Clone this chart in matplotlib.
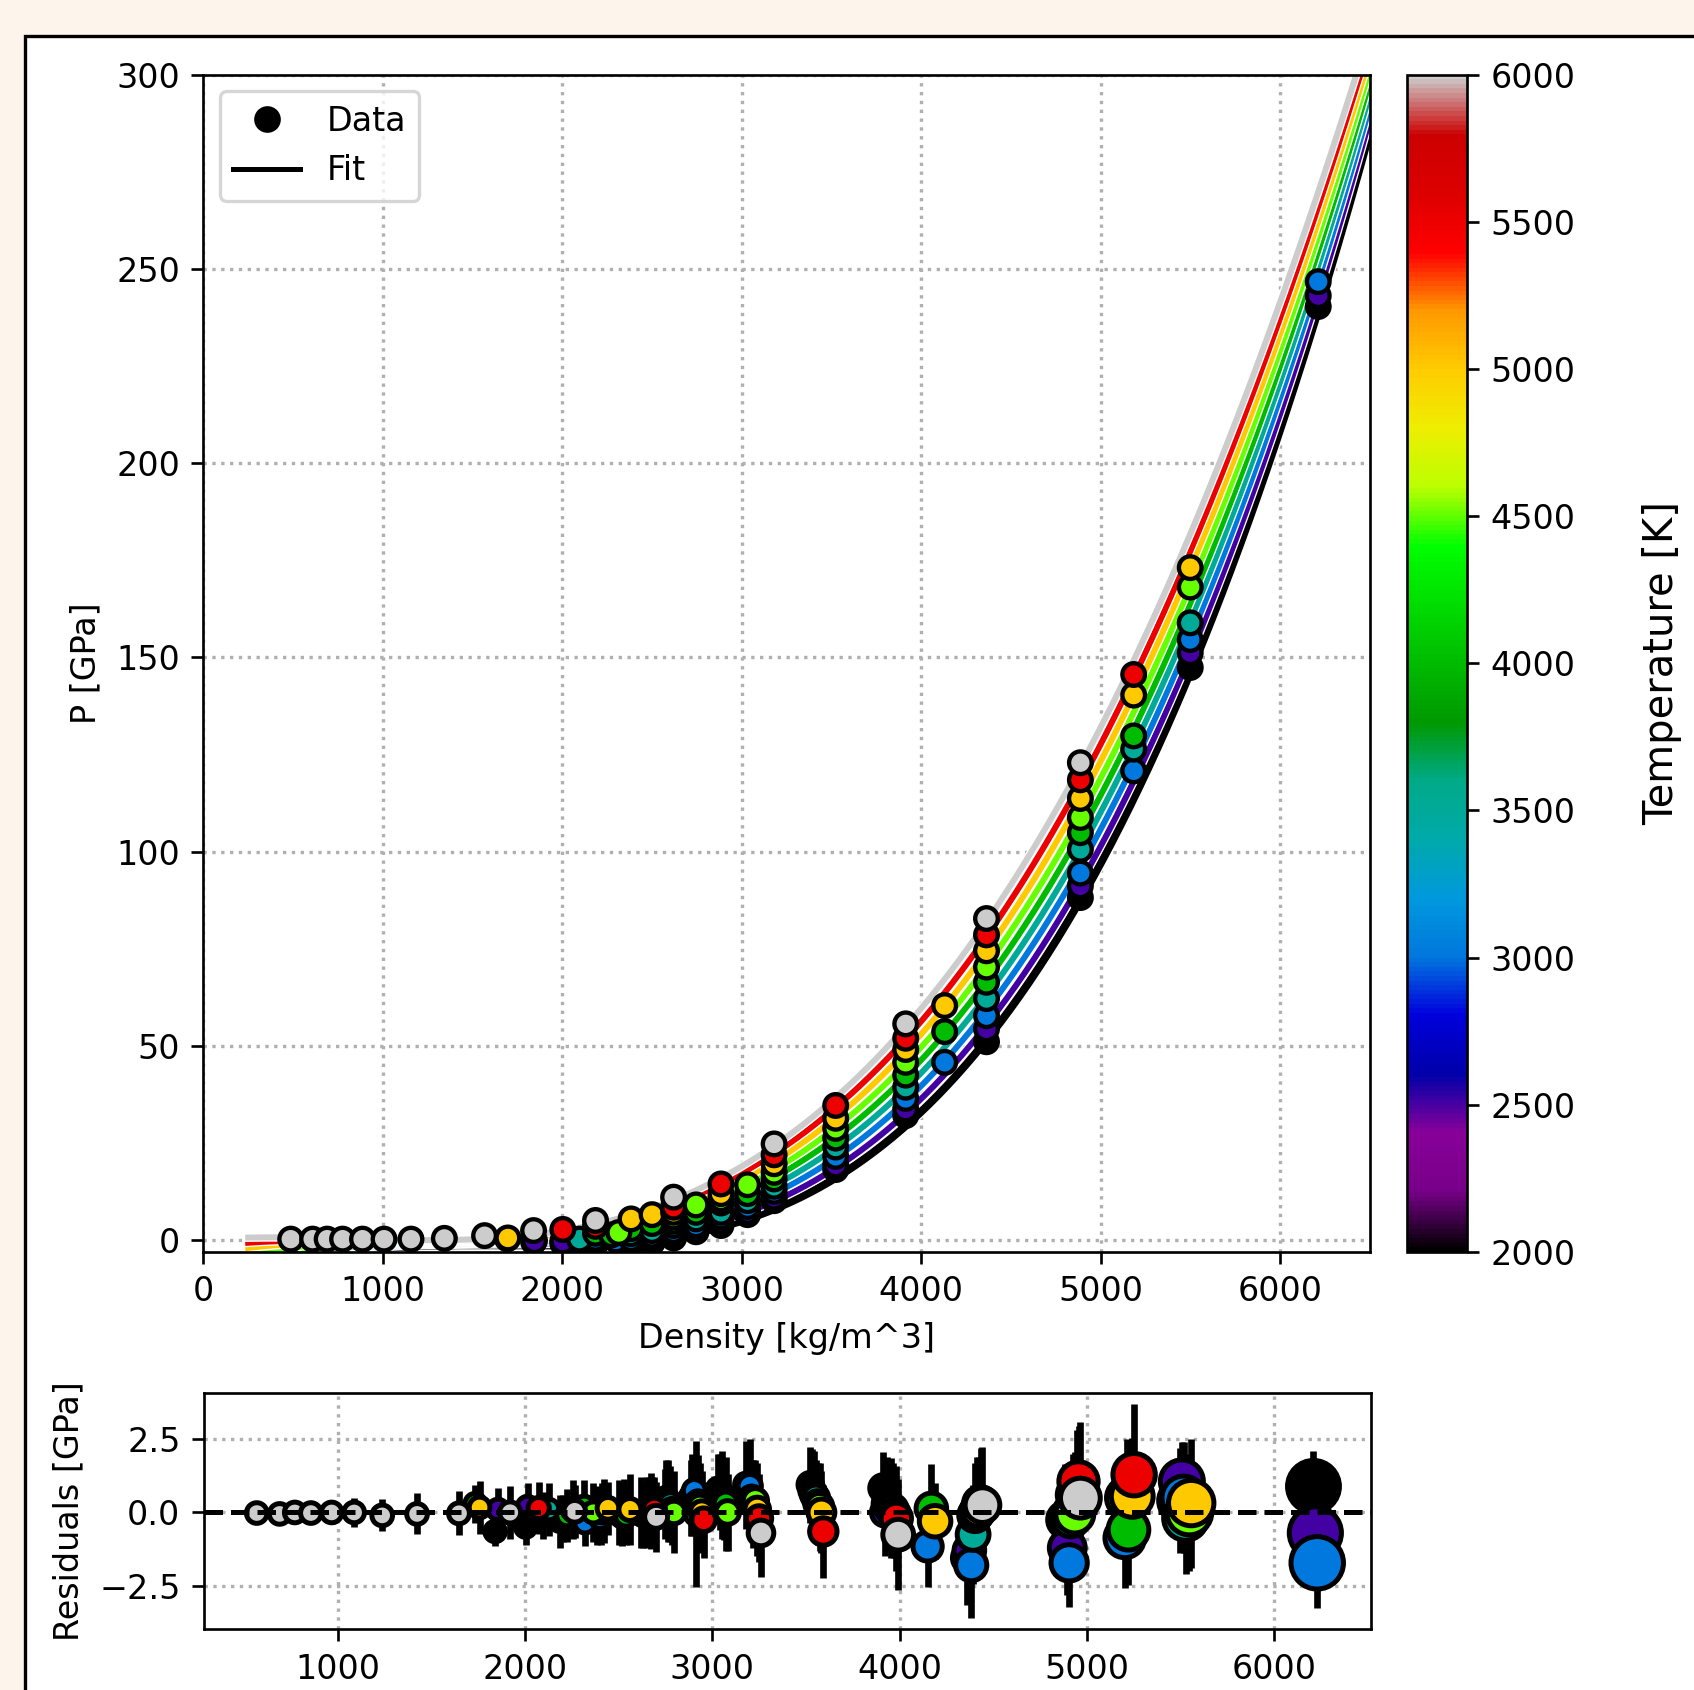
import numpy as np
import matplotlib.pyplot as plt
from matplotlib import patheffects
from matplotlib.lines import Line2D
from matplotlib.patches import Rectangle
from matplotlib.colors import Normalize
import matplotlib.cm as cm

# measured points, one entry per (density, temperature) state
density = [
    487, 609, 690, 776, 887, 1007, 1157, 1343,
    1567, 1694, 1697,
    1840, 1845, 1840,
    2003, 2003, 2003, 2096, 2096,
    2185, 2185, 2185, 2185, 2185,
    2275, 2300, 2315,
    2383, 2383, 2383, 2383, 2383,
    2500, 2500, 2500, 2500, 2500, 2500,
    2620, 2620, 2620, 2620, 2620, 2620, 2620, 2620, 2620,
    2745, 2745, 2745, 2745, 2745, 2745,
    2884, 2884, 2884, 2884, 2884, 2884, 2884, 2884,
    3032, 3032, 3032, 3032, 3032, 3032,
    3180, 3180, 3180, 3180, 3180, 3180, 3180, 3180, 3180,
    3523, 3523, 3523, 3523, 3523, 3523, 3523, 3523,
    3913, 3913, 3913, 3913, 3913, 3913, 3913, 3913, 3913,
    4130, 4130, 4130,
    4363, 4363, 4363, 4363, 4363, 4363, 4363, 4363, 4363,
    4886, 4886, 4886, 4886, 4886, 4886, 4886, 4886, 4886,
    5183, 5183, 5183, 5183, 5183,
    5498, 5498, 5498, 5498, 5498, 5498,
    6211, 6211, 6211,
]
temperature = [
    6000, 6000, 6000, 6000, 6000, 6000, 6000, 6000,
    6000, 4000, 5000,
    2000, 2500, 6000,
    2000, 2500, 5500, 2000, 3500,
    2000, 3000, 4000, 5500, 6000,
    4000, 3000, 4500,
    2000, 3000, 3500, 4000, 5000,
    2000, 2500, 3000, 3500, 4000, 5000,
    2000, 2500, 3000, 3500, 4000, 4500, 5000, 5500, 6000,
    2000, 2500, 3000, 3500, 4000, 4500,
    2000, 2500, 3000, 3500, 4000, 4500, 5000, 5500,
    2000, 2500, 3000, 3500, 4000, 4500,
    2000, 2500, 3000, 3500, 4000, 4500, 5000, 5500, 6000,
    2000, 2500, 3000, 3500, 4000, 4500, 5000, 5500,
    2000, 2500, 3000, 3500, 4000, 4500, 5000, 5500, 6000,
    3000, 4000, 5000,
    2000, 2500, 3000, 3500, 4000, 4500, 5000, 5500, 6000,
    2000, 2500, 3000, 3500, 4000, 4500, 5000, 5500, 6000,
    3000, 3500, 4000, 5000, 5500,
    2000, 2500, 3000, 3500, 4500, 5000,
    2000, 2500, 3000,
]
pressure = [
    0.3, 0.3, 0.3, 0.3, 0.3, 0.3, 0.3, 0.5,
    1.2, 0.4, 0.6,
    -0.4, -0.1, 2.5,
    -0.8, -0.2, 2.8, -1.2, 0.3,
    -0.9, 0.5, 1.8, 3.6, 5.1,
    1.4, 0.1, 2.0,
    -0.9, 0.4, 1.7, 3.0, 5.5,
    -0.6, 0.4, 1.3, 2.5, 4.3, 6.6,
    0.6, 1.7, 2.5, 3.8, 4.9, 6.0, 7.2, 8.5, 11.1,
    2.2, 3.0, 4.0, 5.5, 7.2, 9.1,
    3.8, 4.9, 6.0, 7.2, 9.6, 10.7, 12.0, 14.5,
    6.6, 7.4, 8.7, 10.2, 12.0, 14.3,
    10.2, 11.1, 12.6, 13.9, 15.8, 17.5, 19.7, 22.0, 24.8,
    18.2, 19.4, 21.6, 24.0, 26.3, 28.8, 31.4, 34.7,
    32.1, 33.8, 36.5, 39.4, 42.5, 45.8, 49.1, 52.0, 55.7,
    45.8, 53.7, 60.4,
    51.1, 54.4, 57.8, 62.2, 66.4, 70.3, 74.5, 78.6, 82.8,
    88.2, 91.2, 94.5, 100.6, 104.9, 108.8, 113.7, 118.5, 122.9,
    120.8, 126.4, 129.8, 140.3, 145.6,
    147.4, 151.2, 154.6, 158.9, 168.1, 173.1,
    240.3, 243.1, 246.7,
]
# residuals of the fit and their uncertainties [GPa]
residual = [
    -0.02, -0.05, 0.0, -0.02, 0.0, 0.0, -0.1, -0.05,
    -0.03, 0.3, 0.17,
    -0.65, 0.1, 0.0,
    -0.5, 0.2, 0.15, -0.1, 0.1,
    -0.3, -0.2, -0.1, 0.1, 0.04,
    0.2, -0.35, 0.0,
    -0.1, -0.2, 0.0, 0.05, 0.14,
    0.0, -0.1, -0.15, 0.05, -0.1, 0.1,
    0.0, -0.1, 0.05, 0.0, 0.1, 0.05, 0.0, 0.1, -0.15,
    0.3, 0.5, 0.4, 0.3, 0.1, 0.0,
    0.5, 0.6, 0.75, -0.05, 0.35, 0.2, 0.0, -0.25,
    0.8, 0.7, 0.6, 0.45, 0.3, 0.0,
    0.95, 0.9, 0.9, 0.5, 0.3, 0.4, 0.1, -0.2, -0.7,
    0.95, 0.75, 0.6, 0.5, 0.3, 0.2, 0.0, -0.65,
    0.83, 0.0, 0.3, 0.2, 0.15, 0.1, -0.05, -0.2, -0.76,
    -1.16, 0.14, -0.3,
    -1.55, -1.3, -1.8, -0.75, -0.1, 0.0, 0.1, 0.3, 0.25,
    -0.25, -1.21, -1.72, -0.2, 0.0, -0.05, 0.6, 1.06, 0.49,
    -0.87, 0.5, -0.59, 0.55, 1.29,
    0.4, 1.06, 0.5, -0.2, 0.0, 0.32,
    0.89, -0.7, -1.72,
]
residual_err = [
    0.2, 0.3, 0.3, 0.35, 0.4, 0.5, 0.55, 0.7,
    0.75, 0.65, 0.9,
    0.5, 0.75, 0.9,
    0.6, 0.8, 0.9, 0.8, 0.9,
    0.9, 0.8, 0.9, 1.0, 0.9,
    0.9, 0.8, 1.0,
    1.0, 0.9, 1.0, 1.1, 0.9,
    1.1, 1.0, 1.0, 1.1, 1.0, 1.2,
    1.2, 1.1, 1.0, 1.2, 1.1, 1.3, 1.2, 1.1, 1.2,
    1.2, 1.3, 1.4, 1.3, 1.2, 1.4,
    1.3, 1.4, 1.2, 2.5, 1.6, 1.5, 1.4, 1.3,
    1.2, 1.3, 1.5, 1.4, 1.6, 1.3,
    1.5, 1.4, 1.6, 1.3, 1.5, 1.4, 1.6, 1.5, 1.5,
    1.3, 1.4, 1.5, 1.3, 1.4, 1.5, 1.4, 1.6,
    1.25, 1.5, 1.6, 1.5, 1.7, 1.6, 1.5, 1.8, 1.9,
    1.4, 1.5, 1.3,
    1.6, 1.7, 1.8, 1.7, 1.8, 1.9, 1.8, 1.9, 2.0,
    1.9, 1.6, 1.5, 1.8, 2.0, 2.1, 2.2, 1.9, 2.6,
    1.7, 2.0, 1.9, 2.0, 2.4,
    1.8, 1.35, 1.9, 1.9, 2.0, 2.2,
    1.2, 1.4, 1.55,
]

fit_temps = [2000, 2500, 3000, 3500, 4000, 4500, 5000, 5500, 6000]

rho = np.array(density, dtype=float)
T = np.array(temperature, dtype=float)
P = np.array(pressure)
res = np.array(residual)
err = np.array(residual_err)


def basis(r, t):
    x = r / 1000.0
    tt = (t - 2000.0) / 1000.0
    return np.column_stack([np.ones_like(x), x, x**2, x**3, x**4,
                            tt, tt * x, tt * x**2, tt * x**3])


coef = np.linalg.lstsq(basis(rho, T), P, rcond=None)[0]

cmap = plt.get_cmap('nipy_spectral')
norm = Normalize(vmin=2000, vmax=6000)

fig = plt.figure(figsize=(1694 / 240, 1690 / 240), dpi=240, facecolor='#fdf4eb')
fig.patches.append(Rectangle((25 / 1694, -0.05), 1.2, 1.05 - 36 / 1690,
                             transform=fig.transFigure, facecolor='white',
                             edgecolor='black', lw=1.0, zorder=-1))

ax = fig.add_axes([0.1200, 0.2592, 0.6888, 0.6967])
cax = fig.add_axes([0.8307, 0.2592, 0.0353, 0.6967])
rax = fig.add_axes([0.1203, 0.0359, 0.6890, 0.1397])

# fit curves
grid = np.linspace(250, 6600, 500)
for t in fit_temps:
    yy = basis(grid, np.full_like(grid, t)) @ coef
    lw = 2.4 if t == 2000 else 1.8
    ax.plot(grid, yy, color=cmap(norm(t)), lw=lw, zorder=2,
            path_effects=[patheffects.withStroke(linewidth=lw + 0.8, foreground='white')])

order = np.argsort(T, kind='stable')
ax.scatter(rho[order], P[order], c=T[order], cmap=cmap, norm=norm, s=46,
           edgecolors='k', linewidths=1.3, zorder=3)

ax.set_xlim(0, 6500)
ax.set_ylim(-3, 300)
ax.set_xticks(np.arange(0, 6001, 1000))
ax.set_yticks(np.arange(0, 301, 50))
ax.grid(True, ls=':', color='#b0b0b0', lw=1.0, zorder=0)
ax.set_axisbelow(True)
ax.set_xlabel('Density [kg/m^3]')
ax.set_ylabel('P [GPa]')

handles = [Line2D([0], [0], marker='o', ls='none', color='k', markersize=7),
           Line2D([0], [0], color='k', lw=1.5)]
ax.legend(handles, ['Data', 'Fit'], loc='upper left')

sm = cm.ScalarMappable(norm=norm, cmap=cmap)
cb = fig.colorbar(sm, cax=cax)
cb.set_ticks(np.arange(2000, 6001, 500))
cb.set_label('Temperature [K]', fontsize=12, labelpad=20)

# residuals, slightly dodged in density by temperature
res_x = rho + (T - 2000) * 0.02
sizes = 38 + 0.85 * P
rax.errorbar(res_x[order], res[order], yerr=err[order], fmt='none',
             ecolor='k', elinewidth=2.0, zorder=1)
rax.scatter(res_x[order], res[order], c=T[order], cmap=cmap, norm=norm,
            s=sizes[order], edgecolors='k', linewidths=1.5, zorder=2)
rax.axhline(0, color='k', ls='--', lw=1.5, zorder=3)
rax.set_xlim(284, 6518)
rax.set_ylim(-3.99, 4.07)
rax.set_xticks(np.arange(1000, 6001, 1000))
rax.set_yticks([-2.5, 0, 2.5])
rax.grid(True, ls=':', color='#b0b0b0', lw=1.0, zorder=0)
rax.set_axisbelow(True)
rax.set_ylabel('Residuals [GPa]')

fig.savefig('out.png', dpi=240, facecolor=fig.get_facecolor())
